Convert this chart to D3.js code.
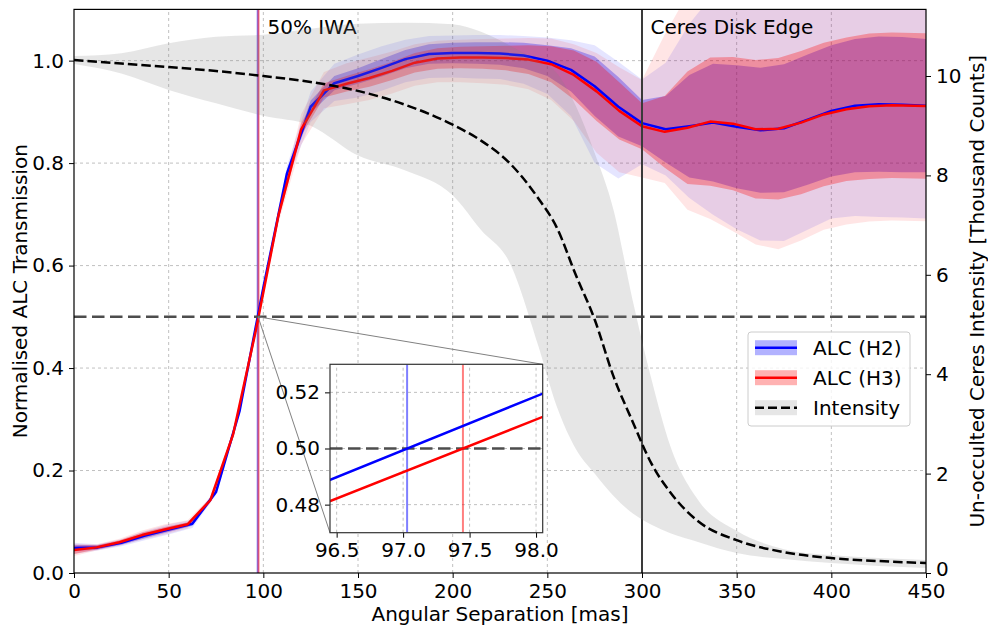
<!DOCTYPE html>
<html>
<head>
<meta charset="utf-8">
<script src="https://cdn.jsdelivr.net/npm/d3@7"></script>
<style>
  body { margin: 0; background: #fff; }
  text { font-family: "DejaVu Sans", sans-serif; }
</style>
</head>
<body>
<div id="chart"></div>
<script>
// ALC (H2) - transmission profile, sampled every 12.5 mas
const h2X = [0, 12.5, 25, 37.5, 50, 62.5, 75, 87.5, 100, 112.5, 125, 137.5, 150, 162.5, 175, 187.5, 200, 212.5, 225, 237.5, 250, 262.5, 275, 287.5, 300, 312.5, 325, 337.5, 350, 362.5, 375, 387.5, 400, 412.5, 425, 437.5, 450];
const h2Mean = [0.049, 0.05, 0.059, 0.073, 0.085, 0.096, 0.158, 0.317, 0.557, 0.78, 0.91, 0.956, 0.97, 0.986, 1.003, 1.013, 1.015, 1.015, 1.014, 1.01, 1.0, 0.982, 0.95, 0.91, 0.878, 0.866, 0.872, 0.879, 0.871, 0.864, 0.868, 0.885, 0.902, 0.912, 0.915, 0.914, 0.912];
const h2Sigma = [0.006, 0.004, 0.004, 0.005, 0.005, 0.004, 0.004, 0.005, 0.006, 0.008, 0.012, 0.014, 0.015, 0.017, 0.018, 0.019, 0.02, 0.021, 0.022, 0.025, 0.03, 0.042, 0.058, 0.058, 0.045, 0.065, 0.1, 0.115, 0.12, 0.122, 0.125, 0.127, 0.128, 0.13, 0.132, 0.132, 0.13];
const h2SpreadUp = [0.01, 0.006, 0.007, 0.009, 0.01, 0.008, 0.006, 0.008, 0.01, 0.015, 0.03, 0.038, 0.042, 0.042, 0.038, 0.035, 0.034, 0.035, 0.036, 0.038, 0.045, 0.058, 0.08, 0.088, 0.085, 0.13, 0.2, 0.25, 0.26, 0.27, 0.27, 0.26, 0.25, 0.24, 0.23, 0.23, 0.22];
const h2SpreadDown = [0.012, 0.006, 0.007, 0.009, 0.01, 0.008, 0.006, 0.008, 0.01, 0.015, 0.03, 0.035, 0.042, 0.045, 0.045, 0.047, 0.048, 0.05, 0.05, 0.055, 0.065, 0.09, 0.15, 0.14, 0.08, 0.09, 0.14, 0.18, 0.2, 0.215, 0.22, 0.215, 0.21, 0.215, 0.22, 0.22, 0.22];

// ALC (H3) - sampled every 12 mas
const h3X = [0, 12, 24, 36, 48, 60, 72, 84, 96, 108, 120, 132, 144, 156, 168, 180, 192, 204, 216, 228, 240, 252, 264, 276, 288, 300, 312, 324, 336, 348, 360, 372, 384, 396, 408, 420, 432, 444, 456];
const h3Mean = [0.045, 0.05, 0.06, 0.074, 0.085, 0.095, 0.142, 0.27, 0.4728, 0.698, 0.866, 0.942, 0.955, 0.966, 0.98, 0.996, 1.004, 1.006, 1.006, 1.005, 1.002, 0.993, 0.972, 0.94, 0.902, 0.872, 0.861, 0.869, 0.881, 0.877, 0.866, 0.867, 0.879, 0.895, 0.905, 0.911, 0.913, 0.912, 0.911];
const h3Sigma = [0.008, 0.004, 0.004, 0.005, 0.005, 0.004, 0.004, 0.005, 0.006, 0.008, 0.012, 0.014, 0.015, 0.017, 0.018, 0.019, 0.02, 0.021, 0.022, 0.024, 0.028, 0.035, 0.048, 0.058, 0.056, 0.045, 0.07, 0.11, 0.125, 0.13, 0.135, 0.138, 0.14, 0.14, 0.14, 0.142, 0.142, 0.142, 0.142];
const h3SpreadUp = [0.012, 0.006, 0.007, 0.009, 0.01, 0.008, 0.006, 0.008, 0.01, 0.015, 0.03, 0.036, 0.04, 0.04, 0.038, 0.036, 0.035, 0.035, 0.036, 0.038, 0.042, 0.05, 0.06, 0.075, 0.085, 0.09, 0.19, 0.26, 0.3, 0.3, 0.3, 0.3, 0.3, 0.3, 0.28, 0.27, 0.26, 0.25, 0.25];
const h3SpreadDown = [0.012, 0.006, 0.007, 0.009, 0.01, 0.008, 0.006, 0.008, 0.01, 0.015, 0.03, 0.035, 0.04, 0.043, 0.044, 0.045, 0.046, 0.048, 0.05, 0.052, 0.058, 0.07, 0.09, 0.12, 0.12, 0.1, 0.1, 0.16, 0.19, 0.21, 0.225, 0.235, 0.23, 0.225, 0.225, 0.225, 0.225, 0.225, 0.225];

// 50% IWA crossings [mas]
const iwaH2 = 97.03;
const iwaH3 = 97.45;
const ceresEdge = 300;

// Un-occulted Ceres intensity [thousand counts]
const intensityX = [0, 25, 50, 75, 100, 125, 150, 175, 200, 215, 230, 245, 255, 265, 275, 285, 295, 305, 315, 330, 350, 375, 400, 425, 450];
const intensityMid = [10.32, 10.25, 10.18, 10.1, 10.0, 9.88, 9.7, 9.42, 9.02, 8.7, 8.25, 7.55, 6.95, 6.0, 5.1, 3.95, 3.05, 2.2, 1.62, 1.03, 0.66, 0.42, 0.3, 0.24, 0.2];
const intensityHi = [10.4, 10.46, 10.66, 10.79, 10.83, 10.95, 11.05, 11.07, 11.04, 10.89, 10.62, 10.3, 10.06, 9.4, 8.45, 7.3, 5.5, 3.9, 2.55, 1.45, 0.85, 0.48, 0.36, 0.3, 0.26];
const intensityLo = [10.24, 10.05, 9.72, 9.45, 9.2, 9.0, 8.4, 8.1, 7.6, 6.9, 6.25, 4.6, 3.35, 2.5, 2.0, 1.55, 1.2, 0.97, 0.8, 0.62, 0.4, 0.28, 0.2, 0.14, 0.1];

// ticks
const xTicks = [0, 50, 100, 150, 200, 250, 300, 350, 400, 450];
const yTicks = [0, 0.2, 0.4, 0.6, 0.8, 1.0];
const yRightTicks = [0, 2, 4, 6, 8, 10];
const insetXTicks = [96.5, 97.0, 97.5, 98.0];
const insetYTicks = [0.48, 0.5, 0.52];

const W = 988, H = 626;
const FS = "20px";

const svg = d3.select("#chart").append("svg")
  .attr("width", W).attr("height", H);

const x = d3.scaleLinear().domain([0, 450]).range([74, 926]);
const y = d3.scaleLinear().domain([0, 1.1]).range([573, 9.4]);
const yR = d3.scaleLinear().domain([0, 11.34]).range([573, 9.4]);

// inset scales
const xi = d3.scaleLinear().domain([96.45, 98.05]).range([330, 542.7]);
const yi = d3.scaleLinear().domain([0.47, 0.53]).range([532.7, 364.3]);

const defs = svg.append("defs");
defs.append("clipPath").attr("id", "clipMain").append("rect")
  .attr("x", x(0)).attr("y", y(1.1))
  .attr("width", x(450) - x(0)).attr("height", y(0) - y(1.1));
defs.append("clipPath").attr("id", "clipInset").append("rect")
  .attr("x", xi.range()[0]).attr("y", yi.range()[1])
  .attr("width", xi.range()[1] - xi.range()[0]).attr("height", yi.range()[0] - yi.range()[1]);

function rows(xs, mean, sig, up, dn) {
  return xs.map((v, i) => ({ x: v, m: mean[i], s: sig[i], up: up[i], dn: dn[i] }));
}
const h2 = rows(h2X, h2Mean, h2Sigma, h2SpreadUp, h2SpreadDown);
const h3 = rows(h3X, h3Mean, h3Sigma, h3SpreadUp, h3SpreadDown);
const inten = intensityX.map((v, i) => ({ x: v, m: intensityMid[i], hi: intensityHi[i], lo: intensityLo[i] }));

// grid
const grid = svg.append("g").attr("stroke", "#b0b0b0").attr("stroke-width", 0.8)
  .attr("stroke-dasharray", "3,3");
grid.selectAll(".gx").data(xTicks.slice(1, -1)).enter().append("line")
  .attr("x1", d => x(d)).attr("x2", d => x(d))
  .attr("y1", y(0)).attr("y2", y(1.1));
grid.selectAll(".gy").data(yTicks.slice(1)).enter().append("line")
  .attr("x1", x(0)).attr("x2", x(450))
  .attr("y1", d => y(d)).attr("y2", d => y(d));

const plot = svg.append("g").attr("clip-path", "url(#clipMain)");

const innerBand = d3.area().x(d => x(d.x)).y0(d => y(d.m - d.s)).y1(d => y(d.m + d.s));
const outerBand = d3.area().x(d => x(d.x)).y0(d => y(d.m - d.dn)).y1(d => y(d.m + d.up));
const meanLine = d3.line().x(d => x(d.x)).y(d => y(d.m));

// ALC bands
plot.append("path").datum(h2).attr("d", outerBand).attr("fill", "blue").attr("fill-opacity", 0.1);
plot.append("path").datum(h2).attr("d", innerBand).attr("fill", "blue").attr("fill-opacity", 0.3);
plot.append("path").datum(h3).attr("d", outerBand).attr("fill", "red").attr("fill-opacity", 0.1);
plot.append("path").datum(h3).attr("d", innerBand).attr("fill", "red").attr("fill-opacity", 0.3);

// 50% IWA markers
plot.append("line").attr("x1", x(iwaH2)).attr("x2", x(iwaH2)).attr("y1", y(0)).attr("y2", y(1.1))
  .attr("stroke", "blue").attr("stroke-opacity", 0.5).attr("stroke-width", 2);
plot.append("line").attr("x1", x(iwaH3)).attr("x2", x(iwaH3)).attr("y1", y(0)).attr("y2", y(1.1))
  .attr("stroke", "red").attr("stroke-opacity", 0.5).attr("stroke-width", 2);

// ALC lines
plot.append("path").datum(h2).attr("d", meanLine).attr("fill", "none")
  .attr("stroke", "blue").attr("stroke-width", 2.5).attr("stroke-linejoin", "round");
plot.append("path").datum(h3).attr("d", meanLine).attr("fill", "none")
  .attr("stroke", "red").attr("stroke-width", 2.5).attr("stroke-linejoin", "round");

// 50% level and disk edge
plot.append("line").attr("x1", x(0)).attr("x2", x(450)).attr("y1", y(0.5)).attr("y2", y(0.5))
  .attr("stroke", "#4d4d4d").attr("stroke-width", 2.5).attr("stroke-dasharray", "12.5,5.5");
plot.append("line").attr("x1", x(ceresEdge)).attr("x2", x(ceresEdge)).attr("y1", y(0)).attr("y2", y(1.1))
  .attr("stroke", "#3a3a3a").attr("stroke-width", 2);

svg.append("text").attr("x", x(iwaH3) + 9).attr("y", 34).attr("font-size", FS).text("50% IWA");
svg.append("text").attr("x", x(ceresEdge) + 8.5).attr("y", 34).attr("font-size", FS).text("Ceres Disk Edge");

// twin axis: intensity
const twin = svg.append("g").attr("clip-path", "url(#clipMain)");
twin.append("path").datum(inten)
  .attr("d", d3.area().curve(d3.curveMonotoneX).x(d => x(d.x)).y0(d => yR(d.lo)).y1(d => yR(d.hi)))
  .attr("fill", "#808080").attr("fill-opacity", 0.2);
twin.append("path").datum(inten)
  .attr("d", d3.line().curve(d3.curveMonotoneX).x(d => x(d.x)).y(d => yR(d.m)))
  .attr("fill", "none").attr("stroke", "#000").attr("stroke-width", 2.5).attr("stroke-dasharray", "9.5,4");

// inset connectors
const cx = x((iwaH2 + iwaH3) / 2), cy = y(0.5);
svg.append("line").attr("x1", cx).attr("y1", cy).attr("x2", xi.range()[1]).attr("y2", yi.range()[1])
  .attr("stroke", "#808080").attr("stroke-width", 1);
svg.append("line").attr("x1", cx).attr("y1", cy).attr("x2", xi.range()[0]).attr("y2", yi.range()[0])
  .attr("stroke", "#808080").attr("stroke-width", 1);

// axes
function styleAxis(g) {
  g.select(".domain").remove();
  g.selectAll(".tick line").attr("stroke", "#000").attr("stroke-width", 1);
  g.selectAll(".tick text").attr("font-size", FS).attr("font-family", "DejaVu Sans").attr("fill", "#000");
}
svg.append("g").attr("transform", `translate(${x(0)},0)`)
  .call(d3.axisLeft(y).tickValues(yTicks).tickFormat(d3.format(".1f")).tickSize(5).tickPadding(5))
  .call(styleAxis);
const rightAxis = svg.append("g").attr("transform", `translate(${x(450)},0)`)
  .call(d3.axisRight(yR).tickValues(yRightTicks).tickFormat(d3.format("d")).tickSize(5).tickPadding(5))
  .call(styleAxis);
// keep the right-hand "0" clear of the bottom "450"
rightAxis.selectAll(".tick text").filter(d => d === 0).attr("dy", "0.1em");
svg.append("g").attr("transform", `translate(0,${y(0)})`)
  .call(d3.axisBottom(x).tickValues(xTicks).tickFormat(d3.format("d")).tickSize(5).tickPadding(6))
  .call(styleAxis);

svg.append("rect").attr("x", x(0)).attr("y", y(1.1))
  .attr("width", x(450) - x(0)).attr("height", y(0) - y(1.1))
  .attr("fill", "none").attr("stroke", "#000").attr("stroke-width", 1.2);

svg.append("text").attr("x", (x(0) + x(450)) / 2).attr("y", 621)
  .attr("text-anchor", "middle").attr("font-size", FS).text("Angular Separation [mas]");
svg.append("text").attr("transform", `translate(27,${(y(0) + y(1.1)) / 2}) rotate(-90)`)
  .attr("text-anchor", "middle").attr("font-size", FS).text("Normalised ALC Transmission");
svg.append("text").attr("transform", `translate(984,${(y(0) + y(1.1)) / 2}) rotate(-90)`)
  .attr("text-anchor", "middle").attr("font-size", FS).text("Un-occulted Ceres Intensity [Thousand Counts]");

// inset
const inset = svg.append("g");
inset.append("rect").attr("x", xi.range()[0]).attr("y", yi.range()[1])
  .attr("width", xi.range()[1] - xi.range()[0]).attr("height", yi.range()[0] - yi.range()[1])
  .attr("fill", "#fff");
const ig = inset.append("g").attr("stroke", "#b0b0b0").attr("stroke-width", 0.8).attr("stroke-dasharray", "3,3");
ig.selectAll(".ix").data(insetXTicks).enter().append("line")
  .attr("x1", d => xi(d)).attr("x2", d => xi(d)).attr("y1", yi.range()[0]).attr("y2", yi.range()[1]);
ig.selectAll(".iy").data(insetYTicks).enter().append("line")
  .attr("x1", xi.range()[0]).attr("x2", xi.range()[1]).attr("y1", d => yi(d)).attr("y2", d => yi(d));

const ip = inset.append("g").attr("clip-path", "url(#clipInset)");
ip.append("line").attr("x1", xi(iwaH2)).attr("x2", xi(iwaH2)).attr("y1", yi.range()[0]).attr("y2", yi.range()[1])
  .attr("stroke", "blue").attr("stroke-opacity", 0.5).attr("stroke-width", 2);
ip.append("line").attr("x1", xi(iwaH3)).attr("x2", xi(iwaH3)).attr("y1", yi.range()[0]).attr("y2", yi.range()[1])
  .attr("stroke", "red").attr("stroke-opacity", 0.5).attr("stroke-width", 2);
ip.append("line").attr("x1", xi.range()[0]).attr("x2", xi.range()[1]).attr("y1", yi(0.5)).attr("y2", yi(0.5))
  .attr("stroke", "#4d4d4d").attr("stroke-width", 2.5).attr("stroke-dasharray", "12.5,5.5");
const insetLine = d3.line().x(d => xi(d.x)).y(d => yi(d.m));
ip.append("path").datum(h2).attr("d", insetLine).attr("fill", "none").attr("stroke", "blue").attr("stroke-width", 2.5);
ip.append("path").datum(h3).attr("d", insetLine).attr("fill", "none").attr("stroke", "red").attr("stroke-width", 2.5);

inset.append("g").attr("transform", `translate(${xi.range()[0]},0)`)
  .call(d3.axisLeft(yi).tickValues(insetYTicks).tickFormat(d3.format(".2f")).tickSize(5).tickPadding(5))
  .call(styleAxis);
inset.append("g").attr("transform", `translate(0,${yi.range()[0]})`)
  .call(d3.axisBottom(xi).tickValues(insetXTicks).tickFormat(d3.format(".1f")).tickSize(5).tickPadding(5))
  .call(styleAxis);
inset.append("rect").attr("x", xi.range()[0]).attr("y", yi.range()[1])
  .attr("width", xi.range()[1] - xi.range()[0]).attr("height", yi.range()[0] - yi.range()[1])
  .attr("fill", "none").attr("stroke", "#333").attr("stroke-width", 1.2);

// legend
const legendItems = [
  { label: "ALC (H2)", color: "blue", patch: "blue", patchOpacity: 0.3, dash: null },
  { label: "ALC (H3)", color: "red", patch: "red", patchOpacity: 0.3, dash: null },
  { label: "Intensity", color: "#000", patch: "#808080", patchOpacity: 0.2, dash: "9,4" }
];
const lg = svg.append("g").attr("transform", "translate(748,332)");
lg.append("rect").attr("width", 162).attr("height", 94).attr("rx", 3)
  .attr("fill", "#fff").attr("fill-opacity", 0.8).attr("stroke", "#cccccc").attr("stroke-width", 1);
const li = lg.selectAll(".li").data(legendItems).enter().append("g")
  .attr("transform", (d, i) => `translate(0,${15.7 + i * 30})`);
li.append("rect").attr("x", 7).attr("y", -7.5).attr("width", 42).attr("height", 15)
  .attr("fill", d => d.patch).attr("fill-opacity", d => d.patchOpacity);
li.append("line").attr("x1", 7).attr("x2", 49).attr("y1", 0).attr("y2", 0)
  .attr("stroke", d => d.color).attr("stroke-width", 2.5)
  .attr("stroke-dasharray", d => d.dash);
li.append("text").attr("x", 65).attr("y", 7).attr("font-size", FS).text(d => d.label);
</script>
</body>
</html>
